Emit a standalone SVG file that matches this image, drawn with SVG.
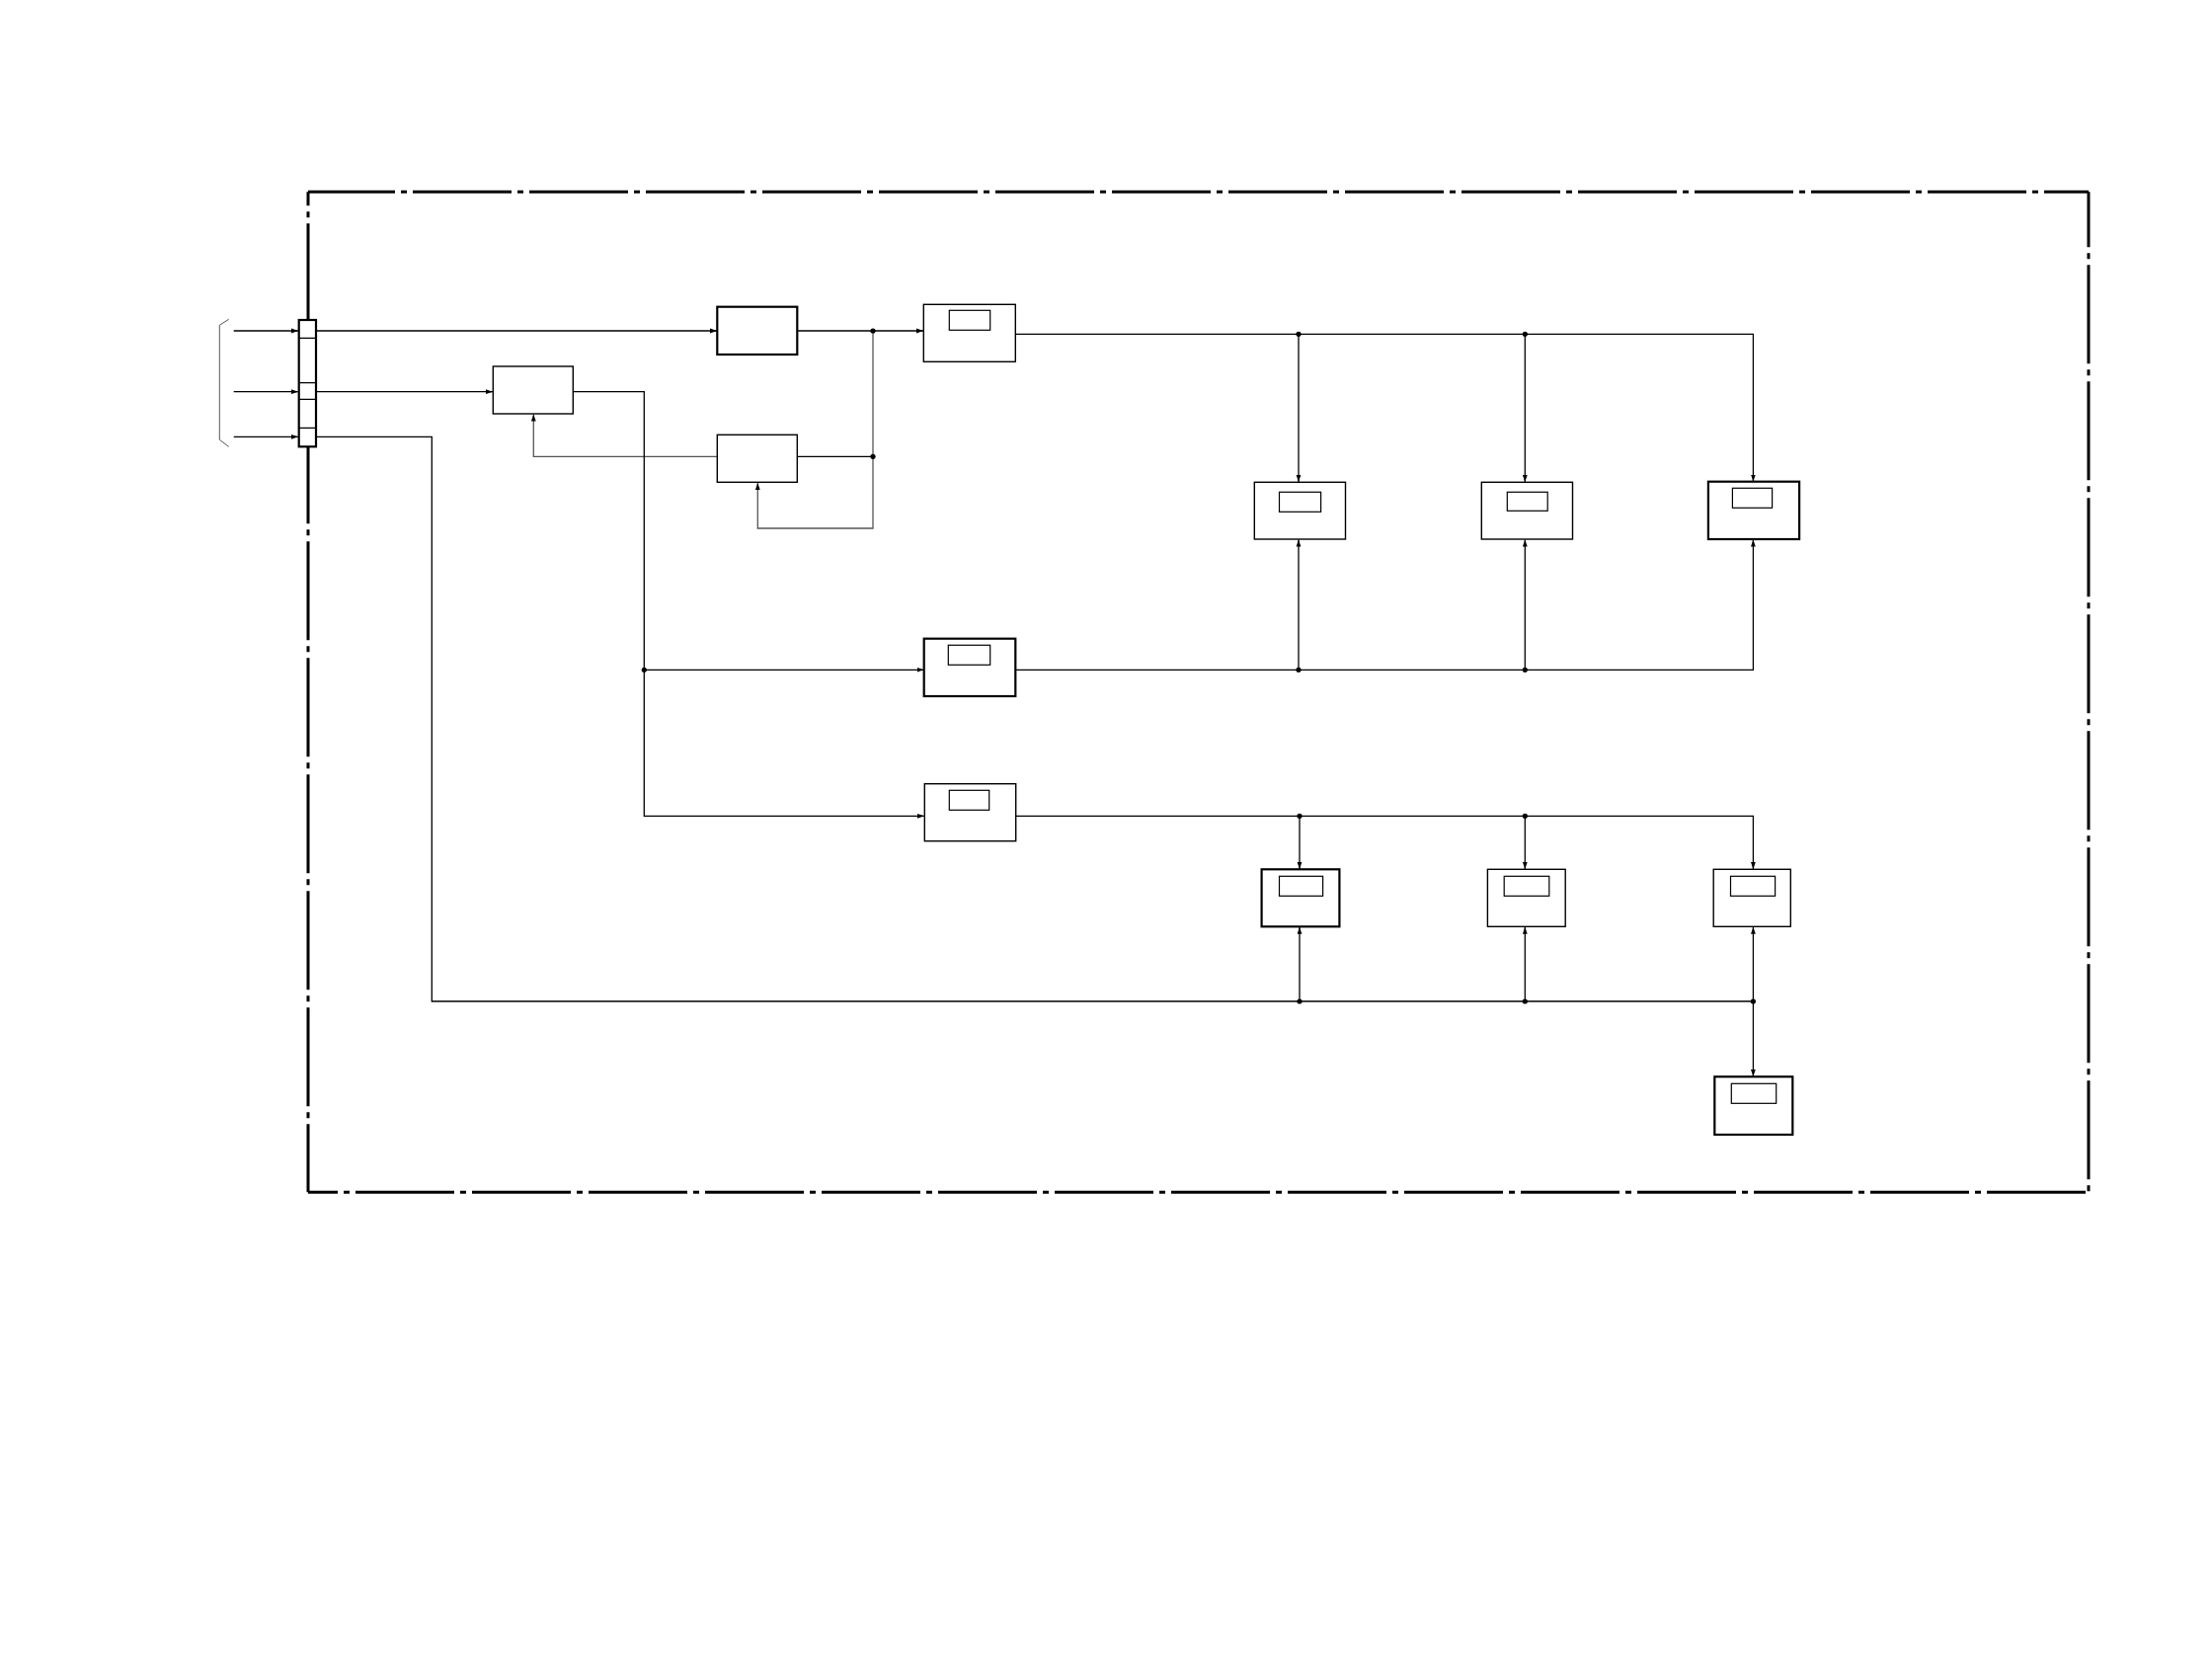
<svg xmlns="http://www.w3.org/2000/svg" width="2240" height="1684" viewBox="0 0 2240 1684">
<style>
.frame{fill:none;stroke:#000;stroke-width:3;stroke-dasharray:100 6 6 6}
.box{fill:#fff;stroke:#000;stroke-width:1.4}
.thick{stroke-width:2.2}
.inner{fill:#fff;stroke:#000;stroke-width:1.2}
.ln{fill:none;stroke:#000;stroke-width:1.3}
.gr{fill:none;stroke:#555;stroke-width:1.3}
.dot{fill:#000}
</style>
<defs>
<marker id="ah" markerUnits="userSpaceOnUse" markerWidth="8" markerHeight="6" refX="7" refY="3" orient="auto">
<path d="M0,0.6 L7,3 L0,5.4 Z" fill="#000"/>
</marker>
</defs>
<rect width="2240" height="1684" fill="#fff"/>
<g id="frame">
<path class="frame" d="M312 194.3 H2115" stroke-dashoffset="12"/>
<path class="frame" d="M312 194.3 V330" stroke-dashoffset="86"/>
<path class="frame" d="M312 452 V1207.3" stroke-dashoffset="21.7"/>
<path class="frame" d="M312 1207.3 H2115" stroke-dashoffset="70"/>
<path class="frame" d="M2115 194.3 V1207.3" stroke-dashoffset="44"/>
</g>
<g id="connectors">
<path d="M231.7 323.3 L222.3 329.3 V445.3 L231.7 452.3" fill="none" stroke="#555" stroke-width="1"/>
<path class="ln" d="M236.7 335 H302" marker-end="url(#ah)"/>
<path class="ln" d="M236.7 396.7 H302" marker-end="url(#ah)"/>
<path class="ln" d="M236.7 442.3 H302" marker-end="url(#ah)"/>
<path class="ln" d="M320 335 H726" marker-end="url(#ah)"/>
<path class="ln" d="M320 396.7 H499" marker-end="url(#ah)"/>
<path class="ln" d="M320 442.3 H437.3 V1014 H1775.4"/>
<path class="ln" d="M807.3 335 H935" marker-end="url(#ah)"/>
<path class="gr" d="M884 335 V535 H767.3 V489" marker-end="url(#ah)"/>
<path class="ln" d="M807.3 462.3 H884"/>
<path class="gr" d="M726.3 462.3 H540.3 V419.5" marker-end="url(#ah)"/>
<path class="ln" d="M580.3 396.7 H652.3 V826.3 H936" marker-end="url(#ah)"/>
<path class="ln" d="M652.3 678.3 H935.5" marker-end="url(#ah)"/>
<path class="ln" d="M1028.3 338.3 H1775.4 V487.5" marker-end="url(#ah)"/>
<path class="ln" d="M1315 338.3 V488" marker-end="url(#ah)"/>
<path class="ln" d="M1544.3 338.3 V488" marker-end="url(#ah)"/>
<path class="ln" d="M1028.3 678.3 H1775.4 V546.5" marker-end="url(#ah)"/>
<path class="ln" d="M1315 678.3 V546.5" marker-end="url(#ah)"/>
<path class="ln" d="M1544.3 678.3 V546.5" marker-end="url(#ah)"/>
<path class="ln" d="M1028.7 826.3 H1775.4 V880" marker-end="url(#ah)"/>
<path class="ln" d="M1316 826.3 V880" marker-end="url(#ah)"/>
<path class="ln" d="M1544.3 826.3 V880" marker-end="url(#ah)"/>
<path class="ln" d="M1316 1014 V938.8" marker-end="url(#ah)"/>
<path class="ln" d="M1544.3 1014 V938.8" marker-end="url(#ah)"/>
<path class="ln" d="M1775.4 1014 V938.8" marker-end="url(#ah)"/>
<path class="ln" d="M1775.4 1014 V1090" marker-end="url(#ah)"/>
<circle class="dot" cx="884" cy="335" r="2.6"/>
<circle class="dot" cx="884" cy="462.3" r="2.6"/>
<circle class="dot" cx="652.3" cy="678.3" r="2.6"/>
<circle class="dot" cx="1315" cy="338.3" r="2.6"/>
<circle class="dot" cx="1544.3" cy="338.3" r="2.6"/>
<circle class="dot" cx="1315" cy="678.3" r="2.6"/>
<circle class="dot" cx="1544.3" cy="678.3" r="2.6"/>
<circle class="dot" cx="1316" cy="826.3" r="2.6"/>
<circle class="dot" cx="1544.3" cy="826.3" r="2.6"/>
<circle class="dot" cx="1316" cy="1014" r="2.6"/>
<circle class="dot" cx="1544.3" cy="1014" r="2.6"/>
<circle class="dot" cx="1775.4" cy="1014" r="2.6"/>
</g>
<g id="terminal">
<rect class="box thick" x="302.7" y="324" width="17.3" height="128.3"/>
<path class="ln" d="M302.7 342.3 H320 M302.7 387.7 H320 M302.7 404.3 H320 M302.7 433.3 H320"/>
</g>
<g id="boxA"><rect class="box" x="499.3" y="371" width="81" height="48"/></g>
<g id="boxB"><rect class="box thick" x="726.3" y="310.7" width="81" height="48.3"/></g>
<g id="boxC"><rect class="box" x="726.3" y="440.3" width="81" height="48"/></g>
<g id="boxD"><rect class="box" x="935.3" y="308.3" width="93" height="58"/><rect class="inner" x="961.3" y="314.3" width="41.4" height="20"/></g>
<g id="boxF"><rect class="box thick" x="935.7" y="646.7" width="92.6" height="58.3"/><rect class="inner" x="960.3" y="653.3" width="42.4" height="20"/></g>
<g id="boxG"><rect class="box" x="936.3" y="793.7" width="92.4" height="58"/><rect class="inner" x="961.3" y="800.3" width="40.4" height="20"/></g>
<g id="boxE1"><rect class="box" x="1270.3" y="488.3" width="92.2" height="57.7"/><rect class="inner" x="1295.5" y="498.3" width="42.1" height="20"/></g>
<g id="boxE2"><rect class="box" x="1500.3" y="488.3" width="92.2" height="57.7"/><rect class="inner" x="1526.3" y="498.3" width="40.9" height="19"/></g>
<g id="boxE3"><rect class="box thick" x="1729.9" y="487.7" width="92.2" height="58.3"/><rect class="inner" x="1754.4" y="494.3" width="40.2" height="20"/></g>
<g id="boxH1"><rect class="box thick" x="1277.6" y="880.3" width="78.8" height="58"/><rect class="inner" x="1295.5" y="887.3" width="44.1" height="20"/></g>
<g id="boxH2"><rect class="box" x="1506.4" y="880.3" width="78.8" height="58"/><rect class="inner" x="1523.2" y="887.3" width="45.6" height="20"/></g>
<g id="boxH3"><rect class="box" x="1735.2" y="880.3" width="78.1" height="58"/><rect class="inner" x="1752.5" y="887.3" width="45.1" height="20"/></g>
<g id="boxI"><rect class="box thick" x="1736.3" y="1090.3" width="79" height="58.7"/><rect class="inner" x="1753.3" y="1097.3" width="45.4" height="20"/></g>
</svg>
